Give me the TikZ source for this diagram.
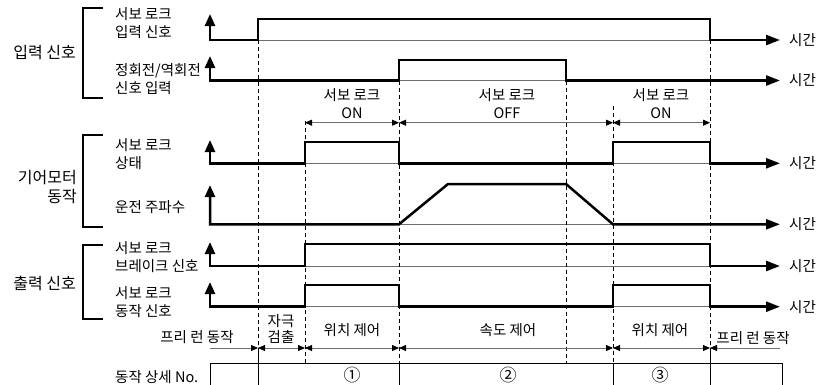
\documentclass[tikz,border=0pt]{standalone}
\usepackage{fontspec}
\setmainfont{Noto Sans CJK KR}
\usepackage{xcolor}
\usepackage{tikz}
\usetikzlibrary{arrows.meta}
\definecolor{tcink}{HTML}{000000}
\definecolor{tcthin}{HTML}{6E6E6E}

\begin{document}
\begin{tikzpicture}[x=1pt, y=-1pt, font=\fontsize{14.5}{18}\selectfont,
  sig/.style={tcink, line width=2.5pt, line join=miter,
    arrows={Triangle[length=12pt,width=10pt]-Triangle[length=14pt,width=10pt]}},
  base/.style={tcthin, line width=0.7pt},
  guide/.style={tcink, line width=0.8pt, dash pattern=on 4pt off 3pt},
  span/.style={tcthin, line width=0.8pt},
  spantip/.tip={Triangle[length=7pt,width=6pt,color=tcink]},
  lbl/.style={anchor=west, align=left, inner sep=0pt},
  grp/.style={anchor=east, align=right, inner sep=0pt, font=\fontsize{16}{19}\selectfont},
  brk/.style={tcink, line width=1.1pt}]
  \useasboundingbox (0,0) rectangle (819,384);
  % group brackets
  \draw[brk] (103,8) -- (83,8) -- (83,98) -- (103,98);
  \draw[brk] (103,135) -- (83,135) -- (83,227) -- (103,227);
  \draw[brk] (103,245) -- (83,245) -- (83,319) -- (103,319);
  \node[grp] (grpIn) at (76,53) {입력 신호};
  \node[grp] (grpMotor) at (77,187.5) {기어모터\\동작};
  \node[grp] (grpOut) at (76,283) {출력 신호};
  % signal names
  \node[lbl] (lblLockIn) at (115,23.5) {서보 로크\\입력 신호};
  \node[lbl] (lblDir) at (115,79) {정회전/역회전\\신호 입력};
  \node[lbl] (lblState) at (115,154) {서보 로크\\상태};
  \node[lbl] (lblFreq) at (115,207) {운전 주파수};
  \node[lbl] (lblBrake) at (115,257.5) {서보 로크\\브레이크 신호};
  \node[lbl] (lblAct) at (115,302.5) {서보 로크\\동작 신호};
  % thin base lines under the pulses
  \foreach \y in {40,80.5,163.3,224.3,266,306.7}
    \draw[base] (210,\y) -- (770,\y);
  % dashed guides
  \foreach \x/\ya/\yb in {258/40/348, 305/121/363, 399/80.5/363, 566/80.5/363, 613/106/363, 710/40/348}
    \draw[guide] (\x,\ya) -- (\x,\yb);
  % signals
  \draw[sig] (210,14) -- (210,40) -- (258,40) -- (258,19) -- (710,19) -- (710,40) -- (780,40);
  \draw[sig] (210,56) -- (210,80.5) -- (399,80.5) -- (399,60) -- (566,60) -- (566,80.5) -- (780,80.5);
  \draw[sig] (210,140) -- (210,163.3) -- (305,163.3) -- (305,142) -- (399,142) -- (399,163.3)
    -- (613,163.3) -- (613,142) -- (710,142) -- (710,163.3) -- (780,163.3);
  \draw[sig] (210,185) -- (210,224.3) -- (399,224.3) -- (448,184) -- (566,184) -- (613,224.3) -- (780,224.3);
  \draw[sig] (210,242) -- (210,266) -- (305,266) -- (305,244) -- (710,244) -- (710,266) -- (780,266);
  \draw[sig] (210,282) -- (210,306.7) -- (305,306.7) -- (305,285) -- (399,285) -- (399,306.7)
    -- (613,306.7) -- (613,285) -- (710,285) -- (710,306.7) -- (780,306.7);
  \foreach \y/\n in {40/1,80.5/2,163.3/3,224.3/4,266/5,306.7/6}
    \node[anchor=west, inner sep=0pt] (time\n) at (789,\y) {시간};
  % servo lock spans
  \draw[span, spantip-spantip] (305,122.7) -- (399,122.7);
  \draw[span, spantip-spantip] (399,122.7) -- (613,122.7);
  \draw[span, spantip-spantip] (613,122.7) -- (710,122.7);
  \node[align=center, inner sep=0pt] (lockOn) at (352,104) {서보 로크\\ON};
  \node[align=center, inner sep=0pt] (lockOff) at (507,104) {서보 로크\\OFF};
  \node[align=center, inner sep=0pt] (lockOnB) at (661,104) {서보 로크\\ON};
  % control modes
  \draw[span, -spantip] (210,348) -- (258,348);
  \draw[span, spantip-spantip] (258,348) -- (305,348);
  \draw[span, spantip-spantip] (305,348) -- (399,348);
  \draw[span, spantip-spantip] (399,348) -- (613,348);
  \draw[span, spantip-spantip] (613,348) -- (710,348);
  \draw[span, spantip-] (710,348) -- (780,348);
  \node[inner sep=0pt] (modeFree) at (197,337) {프리 런 동작};
  \node[align=center, inner sep=0pt, font=\fontsize{14.5}{16}\selectfont] (modePole) at (281,329) {자극\\검출};
  \node[inner sep=0pt] (modePos) at (352,330) {위치 제어};
  \node[inner sep=0pt] (modeSpd) at (508,330) {속도 제어};
  \node[inner sep=0pt] (modePosB) at (660,330) {위치 제어};
  \node[inner sep=0pt] (modeFreeB) at (753,338) {프리 런 동작};
  % detail number table
  \draw[tcink, line width=0.9pt] (210,386) -- (210,363) -- (782,363) -- (782,386);
  \foreach \x/\ya in {258/348, 399/363, 613/363, 710/348}
    \draw[tcink, line width=0.9pt] (\x,\ya) -- (\x,386);
  \node[lbl] (lblDetail) at (115,377) {동작 상세 No.};
  \node[inner sep=0pt, font=\fontsize{17}{18}\selectfont] (step1) at (352,375) {①};
  \node[inner sep=0pt, font=\fontsize{17}{18}\selectfont] (step2) at (508,375) {②};
  \node[inner sep=0pt, font=\fontsize{17}{18}\selectfont] (step3) at (660,375) {③};
\end{tikzpicture}
\end{document}
